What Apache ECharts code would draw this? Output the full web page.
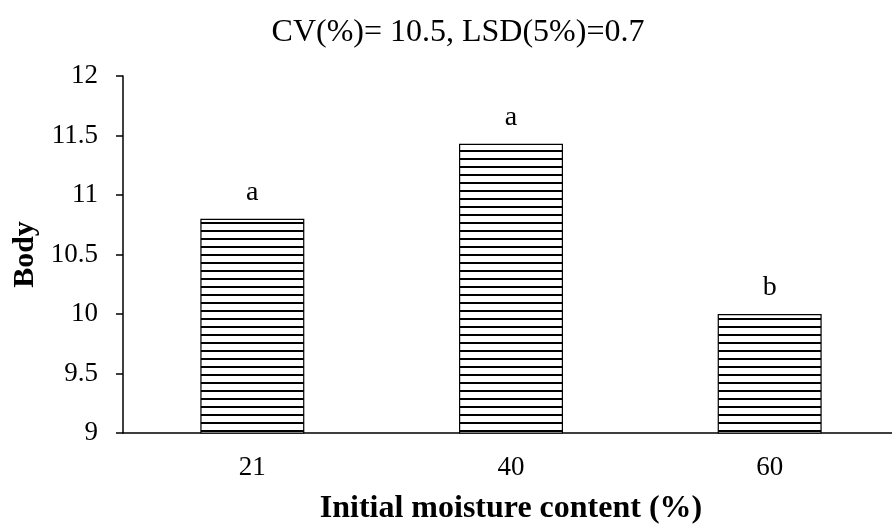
<!DOCTYPE html>
<html>
<head>
<meta charset="utf-8">
<script src="https://cdn.jsdelivr.net/npm/echarts@6/dist/echarts.min.js"></script>
<style>
  html, body { margin: 0; padding: 0; background: #fff; }
  #chart { width: 892px; height: 525px; }
</style>
</head>
<body>
<div id="chart"></div>
<script>
// Body score by initial moisture content
const categories = ['21', '40', '60'];
const bodyValues = [10.8, 11.43, 10.0];
const groupLetters = ['a', 'a', 'b'];
const titleText = 'CV(%)= 10.5, LSD(5%)=0.7';

// Horizontal hatching used as the bar fill
function makeHatch() {
  const c = document.createElement('canvas');
  c.width = 8; c.height = 8;
  const ctx = c.getContext('2d');
  ctx.fillStyle = '#fff';
  ctx.fillRect(0, 0, 8, 8);
  ctx.fillStyle = '#000';
  ctx.fillRect(0, 6, 8, 2);
  return c;
}

const font = '"Liberation Serif", "Times New Roman", serif';
const chart = echarts.init(document.getElementById('chart'));
chart.setOption({
  animation: false,
  backgroundColor: '#fff',
  title: {
    text: titleText,
    left: 453, top: 12, textAlign: 'center',
    textStyle: { fontFamily: font, fontSize: 32, fontWeight: 'normal', color: '#000' }
  },
  // the category band runs slightly past the right edge of the canvas
  grid: {
    left: 123, top: 76, width: 776, height: 357,
    containLabel: false, outerBoundsMode: 'none'
  },
  xAxis: {
    type: 'category',
    data: categories,
    name: 'Initial moisture content (%)',
    nameLocation: 'middle',
    nameGap: 76,
    nameTextStyle: { fontFamily: font, fontSize: 32, fontWeight: 'bold', color: '#000', verticalAlign: 'middle' },
    axisLine: { lineStyle: { color: '#000', width: 1.5 } },
    axisTick: { show: false },
    axisLabel: { fontFamily: font, fontSize: 27, color: '#000', margin: 21 }
  },
  yAxis: {
    type: 'value',
    min: 9, max: 12, interval: 0.5,
    name: 'Body',
    nameLocation: 'middle',
    nameGap: 96,
    nameRotate: 90,
    nameTextStyle: { fontFamily: font, fontSize: 30, fontWeight: 'bold', color: '#000', verticalAlign: 'middle' },
    axisLine: { show: true, lineStyle: { color: '#000', width: 1.5 } },
    axisTick: { show: true, length: 7, lineStyle: { color: '#000', width: 1.5 } },
    axisLabel: { fontFamily: font, fontSize: 27, color: '#000', margin: 25 },
    splitLine: { show: false }
  },
  series: [{
    type: 'bar',
    data: bodyValues,
    barWidth: '40.2%',
    itemStyle: {
      color: { image: makeHatch(), repeat: 'repeat' },
      borderColor: '#000',
      borderWidth: 1.2
    },
    label: {
      show: true,
      position: 'top',
      distance: 12,
      formatter: p => groupLetters[p.dataIndex],
      fontFamily: font, fontSize: 28, color: '#000'
    }
  }]
});
</script>
</body>
</html>
